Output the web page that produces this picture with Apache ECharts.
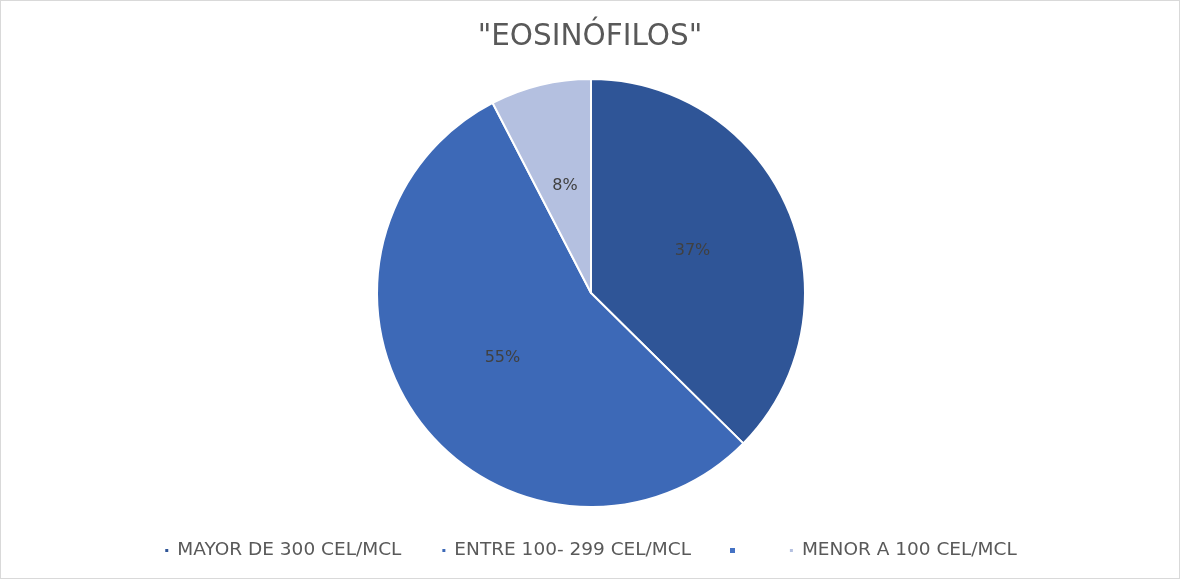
<!DOCTYPE html>
<html><head><meta charset="utf-8">
<script src="https://cdn.jsdelivr.net/npm/echarts@6/dist/echarts.min.js"></script>
<style>html,body{margin:0;padding:0;background:#fff}#c{width:1178px;height:577px;border:1px solid #d9d9d9}</style>
</head><body><div id="c"></div>
<script>
const titleText = '"EOSINÓFILOS"';
const categories = ['MAYOR DE 300 CEL/MCL', 'ENTRE 100- 299 CEL/MCL', ' ', 'MENOR A 100 CEL/MCL'];
const values = [37.4, 55.0, 0, 7.6];
const colors = ['#2F5597', '#3D69B7', '#4472C4', '#B4C0E0'];

const chart = echarts.init(document.getElementById('c'));
chart.setOption({
  animation: false,
  title: { text: titleText, left: 'center', top: 16, textStyle: { fontFamily: 'DejaVu Sans', fontSize: 29.5, fontWeight: 'normal', color: '#595959' } },
  legend: {
    top: 535, left: 'center', icon: 'rect', itemWidth: 5, itemHeight: 5, itemGap: 39,
    textStyle: { fontFamily: 'DejaVu Sans', fontSize: 18.5, color: '#595959', padding: [0, 0, 0, 3] },
    data: categories
  },
  series: [{
    type: 'pie', center: [590, 292], radius: [0, 214], startAngle: 90, clockwise: true,
    avoidLabelOverlap: false,
    itemStyle: { borderColor: '#fff', borderWidth: 2 },
    label: { position: 'inside', formatter: p => Math.round(p.percent) + '%', fontFamily: 'DejaVu Sans', fontSize: 16, color: '#404040' },
    labelLine: { show: false },
    data: categories.map((n, i) => ({
      name: n, value: values[i], itemStyle: Object.assign({ color: colors[i] }, values[i] === 0 ? { borderWidth: 0 } : {}),
      label: { show: values[i] !== 0 }
    }))
  }]
});
</script></body></html>
